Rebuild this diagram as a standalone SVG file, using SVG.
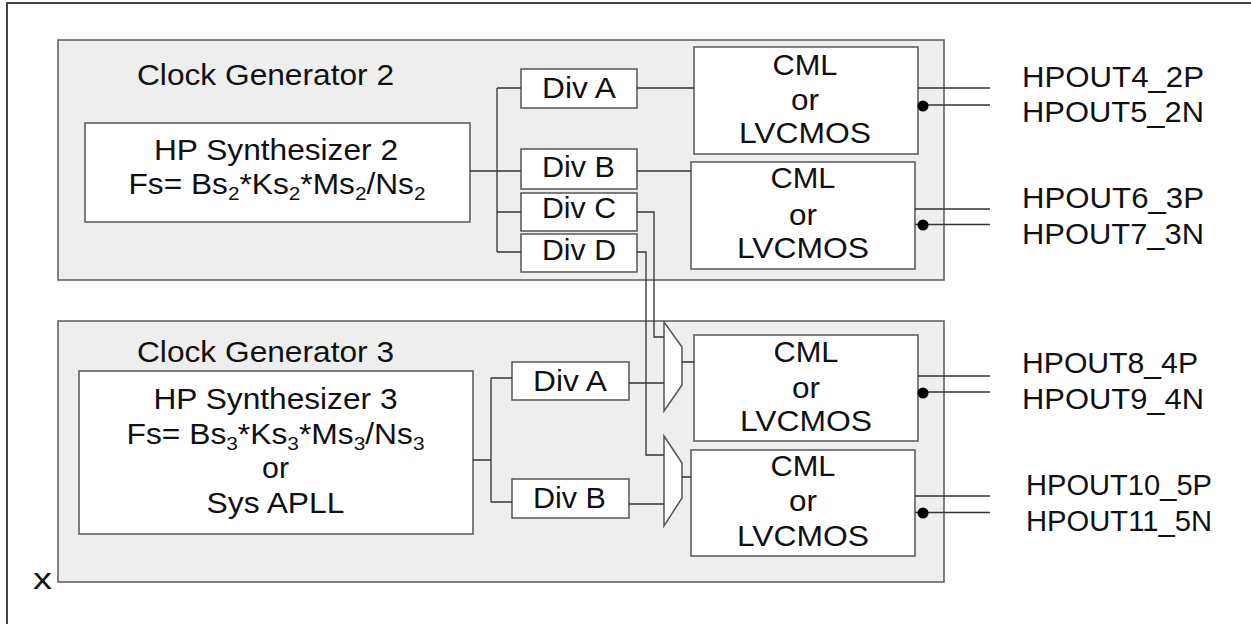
<svg xmlns="http://www.w3.org/2000/svg" width="1251" height="624" viewBox="0 0 1251 624">
<style>
.gen{fill:#eeeeee;stroke:#5a5a5a;stroke-width:1.5}
.box{fill:#ffffff;stroke:#555555;stroke-width:1.5}
.t{font-family:"Liberation Sans",Arial,sans-serif;font-size:29px;fill:#111111}
.m{text-anchor:middle}
.sub{font-size:19px}
.w{fill:none;stroke:#333333;stroke-width:1.3}
.dot{fill:#000000}
</style>
<rect x="0" y="0" width="1251" height="624" fill="#ffffff"/>
<rect id="frame" x="7" y="3" width="1262" height="640" fill="none" stroke="#444444" stroke-width="2"/>
<text id="x-label" class="t" x="33" y="589" font-size="33" textLength="19" lengthAdjust="spacingAndGlyphs">x</text>

<g id="clock-generator-2">
  <rect class="gen" x="58" y="40" width="886" height="240"/>
  <text class="t" x="137" y="85" textLength="257" lengthAdjust="spacingAndGlyphs">Clock Generator 2</text>
</g>
<g id="clock-generator-3">
  <rect class="gen" x="58" y="321" width="886" height="261"/>
  <text class="t" x="137" y="362" textLength="257" lengthAdjust="spacingAndGlyphs">Clock Generator 3</text>
</g>

<g id="hp-synth-2">
  <rect class="box" x="85" y="123" width="385" height="99"/>
  <text class="t m" x="276" y="160" textLength="244" lengthAdjust="spacingAndGlyphs">HP Synthesizer 2</text>
  <text class="t m" x="277" y="194" textLength="297" lengthAdjust="spacingAndGlyphs">Fs= Bs<tspan class="sub" dy="6">2</tspan><tspan dy="-6">*Ks</tspan><tspan class="sub" dy="6">2</tspan><tspan dy="-6">*Ms</tspan><tspan class="sub" dy="6">2</tspan><tspan dy="-6">/Ns</tspan><tspan class="sub" dy="6">2</tspan></text>
</g>
<g id="hp-synth-3">
  <rect class="box" x="79" y="371" width="394" height="163"/>
  <text class="t m" x="275.5" y="409" textLength="244" lengthAdjust="spacingAndGlyphs">HP Synthesizer 3</text>
  <text class="t m" x="275.5" y="444" textLength="298" lengthAdjust="spacingAndGlyphs">Fs= Bs<tspan class="sub" dy="6">3</tspan><tspan dy="-6">*Ks</tspan><tspan class="sub" dy="6">3</tspan><tspan dy="-6">*Ms</tspan><tspan class="sub" dy="6">3</tspan><tspan dy="-6">/Ns</tspan><tspan class="sub" dy="6">3</tspan></text>
  <text class="t m" x="275.5" y="478" textLength="27" lengthAdjust="spacingAndGlyphs">or</text>
  <text class="t m" x="275.5" y="513" textLength="138" lengthAdjust="spacingAndGlyphs">Sys APLL</text>
</g>

<g id="div-a-2">
  <rect class="box" x="521" y="69" width="116" height="39"/>
  <text class="t" x="542" y="98" textLength="74" lengthAdjust="spacingAndGlyphs">Div A</text>
</g>
<g id="div-b-2">
  <rect class="box" x="521" y="149" width="116" height="40"/>
  <text class="t" x="542" y="177" textLength="73" lengthAdjust="spacingAndGlyphs">Div B</text>
</g>
<g id="div-c-2">
  <rect class="box" x="521" y="193" width="116" height="38"/>
  <text class="t" x="542" y="218" textLength="74" lengthAdjust="spacingAndGlyphs">Div C</text>
</g>
<g id="div-d-2">
  <rect class="box" x="521" y="234" width="116" height="38"/>
  <text class="t" x="542" y="260" textLength="74" lengthAdjust="spacingAndGlyphs">Div D</text>
</g>
<g id="div-a-3">
  <rect class="box" x="512" y="362" width="117" height="38"/>
  <text class="t" x="533" y="391" textLength="74" lengthAdjust="spacingAndGlyphs">Div A</text>
</g>
<g id="div-b-3">
  <rect class="box" x="512" y="479" width="117" height="39"/>
  <text class="t" x="533" y="508" textLength="73" lengthAdjust="spacingAndGlyphs">Div B</text>
</g>

<g id="mux-1">
  <polygon class="box" points="664,322 682,347 682,385 664,411"/>
</g>
<g id="mux-2">
  <polygon class="box" points="664,436 682,463 682,498 664,526"/>
</g>

<g id="cml-1">
  <rect class="box" x="694" y="47" width="224" height="107"/>
  <text class="t m" x="805" y="75" textLength="65" lengthAdjust="spacingAndGlyphs">CML</text>
  <text class="t m" x="805" y="110" textLength="28" lengthAdjust="spacingAndGlyphs">or</text>
  <text class="t m" x="805" y="143" textLength="132" lengthAdjust="spacingAndGlyphs">LVCMOS</text>
</g>
<g id="cml-2">
  <rect class="box" x="691" y="162" width="224" height="107"/>
  <text class="t m" x="803" y="188" textLength="65" lengthAdjust="spacingAndGlyphs">CML</text>
  <text class="t m" x="803" y="225" textLength="28" lengthAdjust="spacingAndGlyphs">or</text>
  <text class="t m" x="803" y="258" textLength="132" lengthAdjust="spacingAndGlyphs">LVCMOS</text>
</g>
<g id="cml-3">
  <rect class="box" x="694" y="335" width="224" height="106"/>
  <text class="t m" x="806" y="362" textLength="65" lengthAdjust="spacingAndGlyphs">CML</text>
  <text class="t m" x="806" y="398" textLength="28" lengthAdjust="spacingAndGlyphs">or</text>
  <text class="t m" x="806" y="431" textLength="132" lengthAdjust="spacingAndGlyphs">LVCMOS</text>
</g>
<g id="cml-4">
  <rect class="box" x="691" y="450" width="224" height="106"/>
  <text class="t m" x="803" y="476" textLength="65" lengthAdjust="spacingAndGlyphs">CML</text>
  <text class="t m" x="803" y="511" textLength="28" lengthAdjust="spacingAndGlyphs">or</text>
  <text class="t m" x="803" y="546" textLength="132" lengthAdjust="spacingAndGlyphs">LVCMOS</text>
</g>

<g id="outputs">
  <text class="t" x="1022" y="87" textLength="182" lengthAdjust="spacingAndGlyphs">HPOUT4_2P</text>
  <text class="t" x="1022" y="122" textLength="182" lengthAdjust="spacingAndGlyphs">HPOUT5_2N</text>
  <text class="t" x="1022" y="208" textLength="182" lengthAdjust="spacingAndGlyphs">HPOUT6_3P</text>
  <text class="t" x="1022" y="244" textLength="182" lengthAdjust="spacingAndGlyphs">HPOUT7_3N</text>
  <text class="t" x="1022" y="373" textLength="176" lengthAdjust="spacingAndGlyphs">HPOUT8_4P</text>
  <text class="t" x="1022" y="409" textLength="182" lengthAdjust="spacingAndGlyphs">HPOUT9_4N</text>
  <text class="t" x="1026" y="495" textLength="186" lengthAdjust="spacingAndGlyphs">HPOUT10_5P</text>
  <text class="t" x="1026" y="531" textLength="186" lengthAdjust="spacingAndGlyphs">HPOUT11_5N</text>
</g>

<g id="connectors">
  <path class="w" d="M470,171 H521 M497,88 V252 M497,88 H521 M497,212 H521 M497,252 H521"/>
  <path class="w" d="M637,88 H694 M637,171 H691"/>
  <path class="w" d="M637,212 H654 V337 H664"/>
  <path class="w" d="M637,252 H646 V455 H664"/>
  <path class="w" d="M473,460 H491 M491,378 V502 M491,378 H512 M491,502 H512"/>
  <path class="w" d="M629,383 H664 M629,504 H664"/>
  <path class="w" d="M682,362 H694 M682,477 H691"/>
  <path class="w" d="M918,88 H990 M918,105 H990 M915,209 H990 M915,224.5 H990 M918,376 H990 M918,392 H990 M915,496 H990 M915,512.5 H990"/>
  <circle class="dot" cx="923" cy="106" r="5.5"/>
  <circle class="dot" cx="923" cy="225" r="5.5"/>
  <circle class="dot" cx="923" cy="393" r="5.5"/>
  <circle class="dot" cx="923" cy="513" r="5.5"/>
</g>
</svg>
